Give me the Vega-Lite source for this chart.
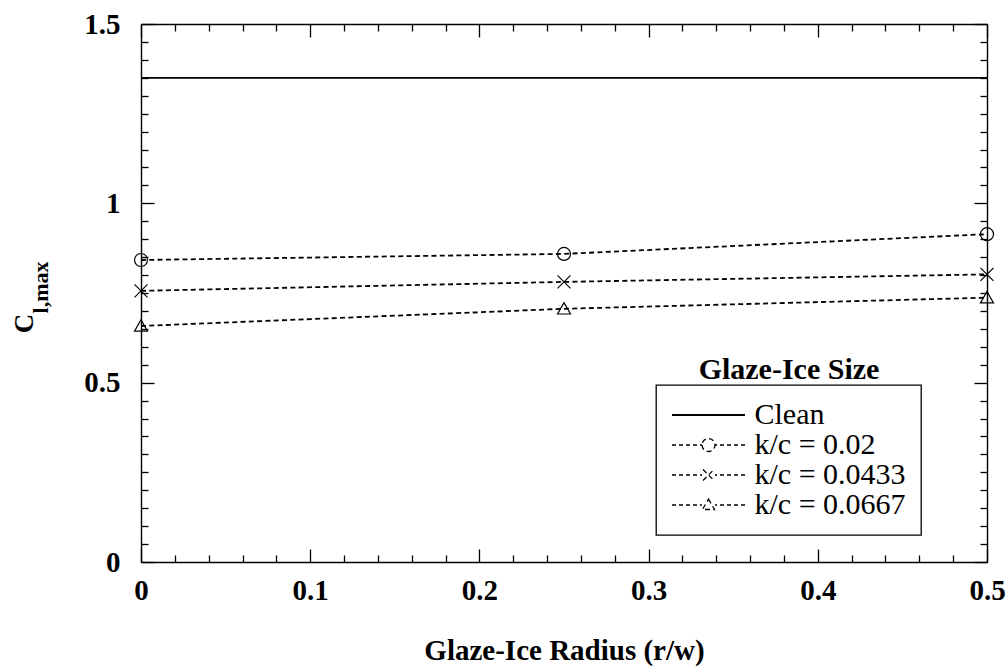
{
  "$schema": "https://vega.github.io/schema/vega-lite/v6.json",
  "autosize": "none",
  "padding": {"left": 141, "top": 24, "right": 19, "bottom": 108},
  "width": 846,
  "height": 538,
  "background": "white",
  "title": {
    "text": "Glaze-Ice Size",
    "font": "Liberation Serif",
    "fontSize": 30,
    "fontWeight": "bold",
    "color": "black",
    "anchor": "middle",
    "frame": "group",
    "orient": "top",
    "offset": 0,
    "dx": 225,
    "dy": 375
  },
  "data": {
    "values": [
      {"r": 0, "clmax": 1.35, "series": "Clean"},
      {"r": 0.5, "clmax": 1.35, "series": "Clean"},
      {"r": 0, "clmax": 0.842, "series": "k/c = 0.02"},
      {"r": 0.25, "clmax": 0.859, "series": "k/c = 0.02"},
      {"r": 0.5, "clmax": 0.914, "series": "k/c = 0.02"},
      {"r": 0, "clmax": 0.756, "series": "k/c = 0.0433"},
      {"r": 0.25, "clmax": 0.781, "series": "k/c = 0.0433"},
      {"r": 0.5, "clmax": 0.802, "series": "k/c = 0.0433"},
      {"r": 0, "clmax": 0.658, "series": "k/c = 0.0667"},
      {"r": 0.25, "clmax": 0.706, "series": "k/c = 0.0667"},
      {"r": 0.5, "clmax": 0.737, "series": "k/c = 0.0667"}
    ]
  },
  "layer": [
    {
      "transform": [{"filter": "datum.series !== 'Clean'"}],
      "mark": {"type": "line", "color": "black", "strokeWidth": 1.8},
      "encoding": {
        "x": {
          "field": "r", "type": "quantitative",
          "scale": {"domain": [0, 0.5], "nice": false, "zero": false},
          "axis": {
            "orient": "bottom",
            "values": [0,0.02,0.04,0.06,0.08,0.1,0.12,0.14,0.16,0.18,0.2,0.22,0.24,0.26,0.28,0.3,0.32,0.34,0.36,0.38,0.4,0.42,0.44,0.46,0.48,0.5],
            "tickSize": {"condition": {"test": "abs(datum.value*10 - round(datum.value*10)) < 0.001", "value": -13}, "value": -7},
            "tickColor": "black", "tickWidth": 1.3,
            "domainColor": "black", "domainWidth": 1.4,
            "grid": false,
            "labelExpr": "abs(datum.value*10 - round(datum.value*10)) < 0.001 ? format(datum.value, '.1~f') : ''",
            "labelFont": "Liberation Serif", "labelFontSize": 29, "labelFontWeight": "bold", "labelColor": "black",
            "labelPadding": 27, "labelFlush": false, "labelOverlap": false,
            "title": "Glaze-Ice Radius (r/w)",
            "titleFont": "Liberation Serif", "titleFontSize": 29, "titleFontWeight": "bold", "titleColor": "black",
            "titlePadding": 25
          }
        },
        "y": {
          "field": "clmax", "type": "quantitative",
          "scale": {"domain": [0, 1.5], "nice": false, "zero": false},
          "axis": {
            "orient": "left",
            "values": [0,0.05,0.1,0.15,0.2,0.25,0.3,0.35,0.4,0.45,0.5,0.55,0.6,0.65,0.7,0.75,0.8,0.85,0.9,0.95,1,1.05,1.1,1.15,1.2,1.25,1.3,1.35,1.4,1.45,1.5],
            "tickSize": {"condition": {"test": "abs(datum.value*2 - round(datum.value*2)) < 0.001", "value": -13}, "value": -7},
            "tickColor": "black", "tickWidth": 1.3,
            "domainColor": "black", "domainWidth": 1.4,
            "grid": false,
            "labelExpr": "abs(datum.value*2 - round(datum.value*2)) < 0.001 ? format(datum.value, '.1~f') : ''",
            "labelFont": "Liberation Serif", "labelFontSize": 29, "labelFontWeight": "bold", "labelColor": "black",
            "labelPadding": 34, "labelOverlap": false,
            "title": "C",
            "titleFont": "Liberation Serif", "titleFontSize": 27, "titleFontWeight": "bold", "titleColor": "black",
            "titleAngle": -90, "titleAlign": "center", "titleBaseline": "alphabetic",
            "titleX": -109, "titleY": 299
          }
        },
        "strokeDash": {
          "field": "series", "type": "nominal",
          "scale": {
            "domain": ["Clean", "k/c = 0.02", "k/c = 0.0433", "k/c = 0.0667"],
            "range": [[1, 0], [5, 3.3], [5, 3.3], [5, 3.3]]
          },
          "legend": {
            "orient": "none", "legendX": 515, "legendY": 361,
            "title": null,
            "padding": 15,
            "strokeColor": "black", "fillColor": "white",
            "symbolSize": 900, "clipHeight": 30, "rowPadding": 0,
            "symbolOffset": 22.5, "labelOffset": 31,
            "labelFont": "Liberation Serif", "labelFontSize": 30, "labelColor": "black", "labelLimit": 0,
            "symbolStrokeColor": "black", "symbolStrokeWidth": 1.3,
            "encode": {
              "legend": {"update": {"strokeWidth": {"value": 1.3}}},
              "symbols": {
                "update": {
                  "shape": {"signal": "datum.value === 'Clean' ? 'M-2.433,0L2.433,0' : datum.value === 'k/c = 0.02' ? 'M-2.433,0L-2.167,0M-1.967,0L-1.7,0M-1.5,0L-1.233,0M-1.033,0L-0.767,0M-0.567,0L-0.433,0M0.433,0L0.567,0M0.767,0L1.033,0M1.233,0L1.5,0M1.7,0L1.967,0M2.167,0L2.433,0M-0.433,0A0.433,0.433,0,1,0,0.433,0A0.433,0.433,0,1,0,-0.433,0' : datum.value === 'k/c = 0.0433' ? 'M-2.433,0L-2.167,0M-1.967,0L-1.7,0M-1.5,0L-1.233,0M-1.033,0L-0.767,0M-0.567,0L-0.433,0M0.433,0L0.567,0M0.767,0L1.033,0M1.233,0L1.5,0M1.7,0L1.967,0M2.167,0L2.433,0M-0.367,-0.367L0.367,0.367M-0.367,0.367L0.367,-0.367' : 'M-2.433,0L-2.167,0M-1.967,0L-1.7,0M-1.5,0L-1.233,0M-1.033,0L-0.767,0M-0.567,0L-0.433,0M0.433,0L0.567,0M0.767,0L1.033,0M1.233,0L1.5,0M1.7,0L1.967,0M2.167,0L2.433,0M0,-0.4L0.4,0.3L-0.4,0.3Z'"},
                  "strokeDash": {"value": [1, 0]},
                  "fill": {"value": "transparent"},
                  "stroke": {"value": "black"},
                  "strokeWidth": {"signal": "datum.value === 'Clean' ? 1.8 : 1.3"}
                }
              }
            }
          }
        }
      }
    },
    {
      "transform": [{"filter": "datum.series !== 'Clean'"}],
      "mark": {"type": "point", "filled": false, "color": "black", "strokeWidth": 1.2, "size": 169, "opacity": 1},
      "encoding": {
        "x": {
          "field": "r", "type": "quantitative",
          "axis": {
            "orient": "top",
            "values": [0,0.02,0.04,0.06,0.08,0.1,0.12,0.14,0.16,0.18,0.2,0.22,0.24,0.26,0.28,0.3,0.32,0.34,0.36,0.38,0.4,0.42,0.44,0.46,0.48,0.5],
            "tickSize": {"condition": {"test": "abs(datum.value*10 - round(datum.value*10)) < 0.001", "value": -13}, "value": -7},
            "tickColor": "black", "tickWidth": 1.3,
            "domainColor": "black", "domainWidth": 1.4,
            "grid": false, "labels": false, "title": null
          }
        },
        "y": {
          "field": "clmax", "type": "quantitative",
          "axis": {
            "orient": "right",
            "values": [0,0.05,0.1,0.15,0.2,0.25,0.3,0.35,0.4,0.45,0.5,0.55,0.6,0.65,0.7,0.75,0.8,0.85,0.9,0.95,1,1.05,1.1,1.15,1.2,1.25,1.3,1.35,1.4,1.45,1.5],
            "tickSize": {"condition": {"test": "abs(datum.value*2 - round(datum.value*2)) < 0.001", "value": -13}, "value": -7},
            "tickColor": "black", "tickWidth": 1.3,
            "domainColor": "black", "domainWidth": 1.4,
            "grid": false, "labels": false, "title": null
          }
        },
        "shape": {
          "field": "series", "type": "nominal",
          "scale": {
            "domain": ["k/c = 0.02", "k/c = 0.0433", "k/c = 0.0667"],
            "range": ["circle", "M-1,-1L1,1M-1,1L1,-1", "M0,-0.95L1,0.8L-1,0.8Z"]
          },
          "legend": null
        }
      }
    },
    {
      "transform": [{"filter": "datum.series === 'Clean'"}],
      "mark": {"type": "line", "color": "black", "strokeWidth": 1.8},
      "encoding": {
        "x": {"field": "r", "type": "quantitative", "axis": null},
        "y": {
          "field": "clmax", "type": "quantitative",
          "axis": {
            "orient": "left",
            "domain": false, "ticks": false, "labels": false, "grid": false,
            "title": "l,max",
            "titleFont": "Liberation Serif", "titleFontSize": 22, "titleFontWeight": "bold", "titleColor": "black",
            "titleAngle": -90, "titleAlign": "center", "titleBaseline": "alphabetic",
            "titleX": -94, "titleY": 263
          }
        }
      }
    }
  ],
  "resolve": {"axis": {"x": "independent", "y": "independent"}},
  "config": {"view": {"stroke": null}}
}
